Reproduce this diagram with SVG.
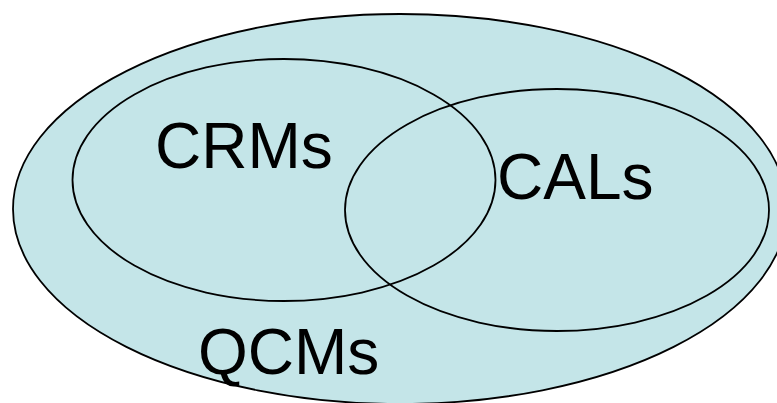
<svg xmlns="http://www.w3.org/2000/svg" width="777" height="403" viewBox="0 0 777 403">
  <style>
    .set { stroke: #000; stroke-width: 1.8; }
    .outer { fill: #c4e5e8; }
    .inner { fill: none; }
    .label { font-family: "Liberation Sans", Arial, sans-serif; font-size: 64px; fill: #000; }
  </style>
  <rect width="777" height="403" fill="#fff"/>
  <g id="qcms">
    <ellipse class="set outer" cx="400" cy="209" rx="387" ry="195"/>
    <text class="label" x="198" y="374">QCMs</text>
  </g>
  <g id="crms">
    <ellipse class="set inner" cx="284" cy="180" rx="211.5" ry="121"/>
    <text class="label" x="155" y="168">CRMs</text>
  </g>
  <g id="cals">
    <ellipse class="set inner" cx="557" cy="210" rx="212" ry="121"/>
    <text class="label" x="497" y="199">CALs</text>
  </g>
  <g id="connectors"/>
</svg>
